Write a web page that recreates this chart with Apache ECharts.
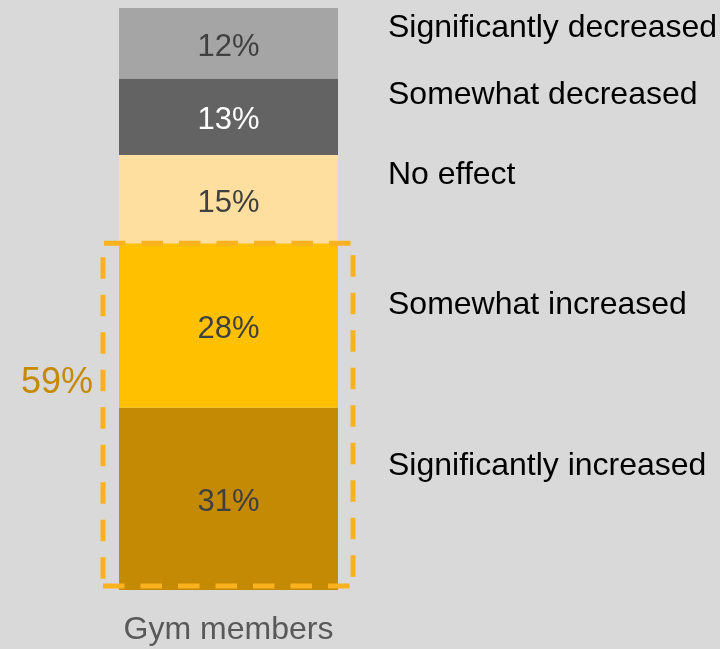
<!DOCTYPE html>
<html>
<head>
<meta charset="utf-8">
<style>
  html, body { margin: 0; padding: 0; background: #d9d9d9; }
  #chart { width: 720px; height: 649px; }
</style>
<script src="https://cdn.jsdelivr.net/npm/echarts@6/dist/echarts.min.js"></script>
</head>
<body>
<div id="chart"></div>
<script>
// Category on the x axis
const categories = ['Gym members'];

// Response groups, listed from the bottom of the stack upwards
const responses = [
  'Significantly increased',
  'Somewhat increased',
  'No effect',
  'Somewhat decreased',
  'Significantly decreased'
];

// Share of respondents (%) for each response, same order as above
const sigIncreased = [31];
const someIncreased = [28];
const noEffect = [15];
const someDecreased = [13];
const sigDecreased = [12];

const seriesValues = [sigIncreased, someIncreased, noEffect, someDecreased, sigDecreased];
const fills = ['#c58a04', '#ffc000', '#fedf9f', '#636363', '#a5a5a5'];
const labelColors = ['#404040', '#404040', '#404040', '#ffffff', '#404040'];

// Vertical placement (cap centre) of each response name on the right
const nameY = [466, 305, 175, 95, 28];

const FONT = '"Liberation Sans", Arial, Helvetica, sans-serif';
const BAR_WIDTH = 219;
const DASH_COLOR = '#fab21e';
const total = seriesValues.reduce((s, v) => s + v[0], 0);

const chart = echarts.init(document.getElementById('chart'));

chart.setOption({
  backgroundColor: '#d9d9d9',
  animation: false,
  grid: { left: 119, right: 382, top: 8, bottom: 59 },
  xAxis: {
    type: 'category',
    data: categories,
    axisLine: { show: false },
    axisTick: { show: false },
    axisLabel: { color: '#595959', fontSize: 32, fontFamily: FONT, margin: 24 }
  },
  yAxis: {
    type: 'value',
    min: 0,
    max: total,
    show: false,
    splitLine: { show: false }
  },
  series: seriesValues.map((vals, i) => ({
    name: responses[i],
    type: 'bar',
    stack: 'total',
    barWidth: BAR_WIDTH,
    data: vals,
    itemStyle: { color: fills[i] },
    label: {
      show: true,
      position: 'inside',
      offset: [0, 4],
      formatter: '{c}%',
      color: labelColors[i],
      fontSize: 31,
      fontFamily: FONT
    }
  }))
});

// Dashed segment helper for the bracket box
function dashedLine(x1, y1, x2, y2, gapFirst) {
  const period = 37.5;
  return {
    type: 'line',
    z: 100,
    shape: { x1: x1, y1: y1, x2: x2, y2: y2 },
    style: {
      stroke: DASH_COLOR,
      lineWidth: 5,
      lineCap: 'butt',
      lineDash: [21.5, period - 21.5],
      lineDashOffset: gapFirst ? period - gapFirst : 0
    }
  };
}

// Overlay: dashed box around the "increased" groups, its total, and the response names
function drawOverlay() {
  const increasedTotal = sigIncreased[0] + someIncreased[0];
  const cx = chart.convertToPixel({ xAxisIndex: 0, yAxisIndex: 0 }, [0, 0])[0];
  const yTop = chart.convertToPixel({ yAxisIndex: 0 }, increasedTotal);
  const yBottom = chart.convertToPixel({ yAxisIndex: 0 }, 0) - 4;
  const left = cx - BAR_WIDTH / 2 - 16;
  const right = cx + BAR_WIDTH / 2 + 15;

  const elements = [
    dashedLine(left + 1, yTop, right, yTop, 0),
    dashedLine(left, yBottom, right, yBottom, 0),
    dashedLine(left, yTop, left, yBottom, 14),
    dashedLine(right, yTop, right, yBottom, 12),
    {
      type: 'text',
      z: 100,
      x: left - 10,
      y: yTop + (yBottom - yTop) * 0.4 + 3,
      style: {
        text: increasedTotal + '%',
        fill: '#c58a04',
        fontSize: 36,
        fontFamily: FONT,
        align: 'right',
        verticalAlign: 'middle'
      }
    }
  ];

  responses.forEach((name, i) => {
    elements.push({
      type: 'text',
      z: 100,
      x: 388,
      y: nameY[i],
      style: {
        text: name,
        fill: '#000000',
        fontSize: 32,
        fontFamily: FONT,
        align: 'left',
        verticalAlign: 'middle'
      }
    });
  });

  chart.setOption({ graphic: { elements: elements } });
}

drawOverlay();
</script>
</body>
</html>
